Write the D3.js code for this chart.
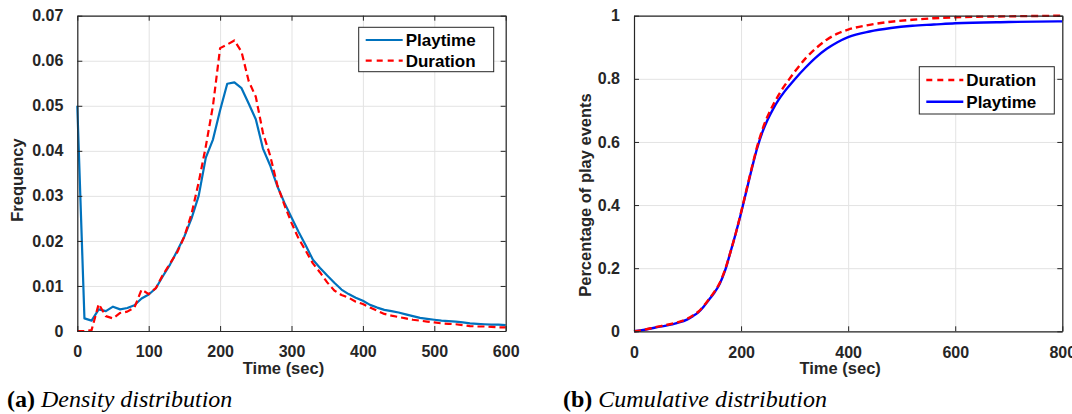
<!DOCTYPE html>
<html>
<head>
<meta charset="utf-8">
<script src="https://cdn.jsdelivr.net/npm/d3@7"></script>
<style>
  html, body { margin: 0; padding: 0; background: #fff; }
  svg { display: block; }
  text { font-family: 'Liberation Sans', Arial, sans-serif; }
</style>
</head>
<body>
<div id="chart"></div>
<script>
// density plot (a): 10 sec bins
const densityTimes = [0, 10, 20, 30, 40, 50, 60, 70, 80, 90, 100, 110, 120, 130, 140, 150, 160, 170, 180, 190,
  200, 210, 220, 230, 240, 250, 260, 270, 280, 290, 300, 310, 320, 330, 340, 350, 360, 370, 380, 390,
  400, 410, 420, 430, 440, 450, 460, 470, 480, 490, 500, 510, 520, 530, 540, 550, 560, 570, 580, 590, 600];
const playtimeDensity = [0.050, 0.0028, 0.0023, 0.0048, 0.0044, 0.0054, 0.0048, 0.0051, 0.0057, 0.0072,
  0.0081, 0.0095, 0.0122, 0.0148, 0.0178, 0.021, 0.025, 0.030, 0.0385, 0.0425,
  0.049, 0.0549, 0.0552, 0.0539, 0.0505, 0.047, 0.0405, 0.0368, 0.0322, 0.0285,
  0.0252, 0.022, 0.019, 0.0158, 0.014, 0.0123, 0.0107, 0.0092, 0.0082, 0.0074,
  0.0067, 0.0058, 0.0052, 0.0047, 0.0044, 0.0041, 0.0037, 0.0033, 0.0029, 0.0027,
  0.0025, 0.0023, 0.0022, 0.0021, 0.0019, 0.0017, 0.0016, 0.0015, 0.0014, 0.0014, 0.0013];
const durationDensity = [0, 0, 0.0002, 0.006, 0.0033, 0.0028, 0.004, 0.0043, 0.0052, 0.0092,
  0.0082, 0.0095, 0.0125, 0.015, 0.0175, 0.021, 0.026, 0.033, 0.041, 0.050,
  0.0628, 0.0636, 0.0645, 0.062, 0.0555, 0.052, 0.044, 0.039, 0.0325, 0.028,
  0.024, 0.0205, 0.0178, 0.015, 0.013, 0.0108, 0.009, 0.008, 0.0074, 0.0065,
  0.006, 0.0052, 0.0045, 0.0038, 0.0034, 0.0031, 0.0028, 0.0025, 0.0023, 0.0021,
  0.0019, 0.0017, 0.0016, 0.0015, 0.0013, 0.0011, 0.001, 0.001, 0.0009, 0.0008, 0.0008];
const densityXTicks = [0, 100, 200, 300, 400, 500, 600];
const densityYTicks = [0, 0.01, 0.02, 0.03, 0.04, 0.05, 0.06, 0.07];

// cumulative plot (b)
const cdfTimes = [0, 20, 40, 60, 80, 100, 110, 120, 130, 140, 150, 160, 170, 180, 190, 200, 210, 220, 230, 240,
  250, 260, 270, 280, 290, 300, 320, 340, 360, 380, 400, 440, 480, 520, 560, 600, 700, 800];
const durationCdf = [0, 0.005, 0.013, 0.02, 0.028, 0.04, 0.05, 0.062, 0.08, 0.102, 0.125, 0.153, 0.195, 0.25, 0.31,
  0.377, 0.448, 0.518, 0.585, 0.64, 0.683, 0.718, 0.748, 0.775, 0.799, 0.822, 0.864, 0.897, 0.924, 0.943, 0.956,
  0.971, 0.981, 0.987, 0.992, 0.995, 0.998, 1.0];
const playtimeCdf = [0, 0.005, 0.012, 0.018, 0.026, 0.038, 0.048, 0.06, 0.078, 0.1, 0.122, 0.15, 0.192, 0.25, 0.31,
  0.375, 0.445, 0.515, 0.58, 0.632, 0.672, 0.705, 0.733, 0.757, 0.778, 0.798, 0.835, 0.868, 0.895, 0.916, 0.932,
  0.95, 0.961, 0.968, 0.972, 0.976, 0.98, 0.982];
const cdfXTicks = [0, 200, 400, 600, 800];
const cdfYTicks = [0, 0.2, 0.4, 0.6, 0.8, 1];

const width = 1072, height = 414;
const axisColor = '#262626';

const svg = d3.select('#chart').append('svg')
  .attr('width', width)
  .attr('height', height);

function drawPanel(opts) {
  const x = d3.scaleLinear().domain(opts.xDomain).range([opts.left, opts.right]);
  const y = d3.scaleLinear().domain(opts.yDomain).range([opts.bottom, opts.top]);
  const g = svg.append('g');

  // grid
  g.append('g')
    .attr('transform', `translate(0,${opts.bottom})`)
    .call(d3.axisBottom(x).tickValues(opts.xTicks).tickSize(-(opts.bottom - opts.top)).tickFormat(''))
    .call(a => a.select('.domain').remove())
    .selectAll('line').attr('stroke', '#e3e3e3').attr('stroke-width', 1);
  g.append('g')
    .attr('transform', `translate(${opts.left},0)`)
    .call(d3.axisLeft(y).tickValues(opts.yTicks).tickSize(-(opts.right - opts.left)).tickFormat(''))
    .call(a => a.select('.domain').remove())
    .selectAll('line').attr('stroke', '#e3e3e3').attr('stroke-width', 1);

  // series
  opts.series.forEach(s => {
    const line = d3.line()
      .x((d, i) => x(opts.times[i]))
      .y(d => y(d))
      .curve(opts.curve);
    g.append('path')
      .datum(s.values)
      .attr('d', line)
      .attr('fill', 'none')
      .attr('stroke', s.color)
      .attr('stroke-width', s.width)
      .attr('stroke-dasharray', s.dash || null)
      .attr('stroke-linejoin', 'round');
  });

  // frame with inward ticks on all sides
  const tick = 5;
  const axes = [
    { ax: d3.axisBottom(x).tickValues(opts.xTicks), t: `translate(0,${opts.bottom})`, labels: true },
    { ax: d3.axisTop(x).tickValues(opts.xTicks), t: `translate(0,${opts.top})`, labels: false },
    { ax: d3.axisLeft(y).tickValues(opts.yTicks), t: `translate(${opts.left},0)`, labels: true },
    { ax: d3.axisRight(y).tickValues(opts.yTicks), t: `translate(${opts.right},0)`, labels: false }
  ];
  axes.forEach((a, k) => {
    const ag = g.append('g')
      .attr('transform', a.t)
      .call(a.ax.tickSizeInner(-tick).tickSizeOuter(0).tickPadding(k < 2 ? 15 : 14)
        .tickFormat(a.labels ? (k === 0 ? opts.xFormat : opts.yFormat) : ''));
    ag.select('.domain').attr('stroke', axisColor).attr('stroke-width', 1.2);
    ag.selectAll('line').attr('stroke', axisColor).attr('stroke-width', 1);
    ag.selectAll('text')
      .attr('fill', axisColor)
      .style('font-size', '16px')
      .style('font-weight', 'bold');
  });

  // axis labels
  g.append('text')
    .attr('x', (opts.left + opts.right) / 2 - 8)
    .attr('y', 374)
    .attr('text-anchor', 'middle')
    .attr('fill', axisColor)
    .style('font-size', '16.5px')
    .style('font-weight', 'bold')
    .text('Time (sec)');
  g.append('text')
    .attr('transform', `translate(${opts.yLabelX},${opts.yLabelY}) rotate(-90)`)
    .attr('text-anchor', 'middle')
    .attr('fill', axisColor)
    .style('font-size', '16.5px')
    .style('font-weight', 'bold')
    .text(opts.yLabel);

  // legend
  const lg = opts.legend;
  g.append('rect')
    .attr('x', lg.x).attr('y', lg.y)
    .attr('width', lg.w).attr('height', lg.h)
    .attr('fill', '#fff')
    .attr('stroke', axisColor)
    .attr('stroke-width', 1);
  lg.items.forEach((it, i) => {
    const cy = lg.rowY[i];
    g.append('line')
      .attr('x1', lg.x + 7).attr('x2', lg.x + 44)
      .attr('y1', cy).attr('y2', cy)
      .attr('stroke', it.color)
      .attr('stroke-width', it.width)
      .attr('stroke-dasharray', it.dash || null);
    g.append('text')
      .attr('x', lg.x + 47)
      .attr('y', cy + 6)
      .attr('fill', '#000')
      .style('font-size', '17px')
      .style('font-weight', 'bold')
      .text(it.name);
  });

  // caption
  const cap = g.append('text')
    .attr('x', opts.captionX)
    .attr('y', 407)
    .style('font-family', "'Liberation Serif', 'Times New Roman', serif")
    .style('font-size', '24px')
    .attr('fill', '#000');
  cap.append('tspan').style('font-weight', 'bold').text(opts.captionTag + ' ');
  cap.append('tspan').style('font-style', 'italic').text(opts.caption);
}

const blueA = '#0072BD';

drawPanel({
  left: 77.3, right: 505.7, top: 15.7, bottom: 331,
  xDomain: [0, 600], yDomain: [0, 0.07],
  xTicks: densityXTicks, yTicks: densityYTicks,
  xFormat: d3.format('d'), yFormat: d => d === 0 ? '0' : d3.format('.2f')(d),
  times: densityTimes,
  curve: d3.curveLinear,
  series: [
    { values: playtimeDensity, color: blueA, width: 2.2 },
    { values: durationDensity, color: '#ff0000', width: 2.2, dash: '7,4' }
  ],
  yLabel: 'Frequency', yLabelX: 23, yLabelY: 180,
  legend: {
    x: 358.7, y: 27.3, w: 135, h: 44.4, rowY: [40, 60.7],
    items: [
      { name: 'Playtime', color: blueA, width: 2.2 },
      { name: 'Duration', color: '#ff0000', width: 2.2, dash: '6,5' }
    ]
  },
  captionX: 7, captionTag: '(a)', caption: 'Density distribution'
});

drawPanel({
  left: 634, right: 1062.3, top: 15.7, bottom: 331.3,
  xDomain: [0, 800], yDomain: [0, 1],
  xTicks: cdfXTicks, yTicks: cdfYTicks,
  xFormat: d3.format('d'), yFormat: d => d === 0 || d === 1 ? String(d) : d3.format('.1f')(d),
  times: cdfTimes,
  curve: d3.curveMonotoneX,
  series: [
    { values: playtimeCdf, color: '#0000ff', width: 2.4 },
    { values: durationCdf, color: '#ff0000', width: 2.4, dash: '7,4' }
  ],
  yLabel: 'Percentage of play events', yLabelX: 590.5, yLabelY: 195,
  legend: {
    x: 919.3, y: 66.7, w: 135, h: 47.3, rowY: [80, 101.7],
    items: [
      { name: 'Duration', color: '#ff0000', width: 2.4, dash: '6,5' },
      { name: 'Playtime', color: '#0000ff', width: 2.4 }
    ]
  },
  captionX: 563, captionTag: '(b)', caption: 'Cumulative distribution'
});
</script>
</body>
</html>
